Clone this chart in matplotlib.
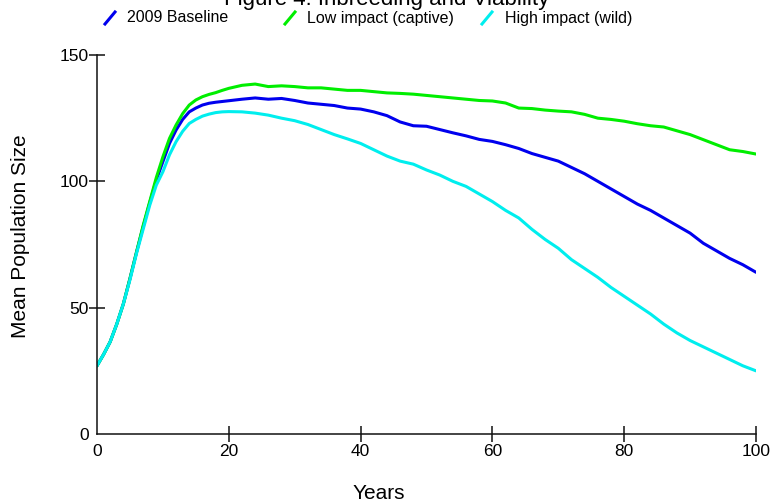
import matplotlib
matplotlib.use("Agg")
import matplotlib.pyplot as plt
from matplotlib.lines import Line2D

plt.rcParams['font.family'] = ['Liberation Sans', 'DejaVu Sans']

years = list(range(0, 21)) + list(range(22, 101, 2))
baseline = [27, 31.5, 36.5, 43.5, 51.5, 61.5, 72, 82, 91.5, 100.5, 107.8, 115, 120.3, 124.5, 127.5,
            129, 130.2, 130.9, 131.3, 131.6, 131.9,
            132.5, 133, 132.5, 132.8,
            132, 131, 130.5, 130, 129, 128.6, 127.5, 126, 123.5, 122, 121.8, 120.5, 119.2, 118,
            116.6, 115.8, 114.5, 113, 111, 109.5, 108, 105.5, 103, 100, 97, 94, 91, 88.5, 85.5,
            82.5, 79.5, 75.5, 72.5, 69.5, 67, 64]
low_impact = [27, 31.5, 36.5, 43.5, 51.5, 61.5, 72, 82.5, 92, 101.5, 109.7, 117, 122.3, 126.8, 130.2,
              132.2, 133.5, 134.4, 135.1, 136, 136.8,
              138, 138.5, 137.5,
              137.8, 137.5, 137, 137, 136.5, 136, 136, 135.5, 135, 134.8, 134.5, 134, 133.5, 133,
              132.5, 132, 131.8, 131, 129, 128.8, 128.2, 127.8, 127.5, 126.5, 125, 124.5, 123.8,
              122.8, 122, 121.5, 120, 118.5, 116.5, 114.5, 112.5, 111.8, 110.8]
high_impact = [27, 31.5, 36.5, 43.5, 51.5, 61, 71.5, 81, 90.5, 98.5, 103.8, 110.5, 115.7, 119.8, 122.9,
               124.5, 125.8, 126.6, 127.2, 127.5, 127.6,
               127.5, 127, 126.2, 125,
               124, 122.5, 120.5, 118.5, 116.8, 115, 112.5, 110, 108, 106.8, 104.5, 102.5, 100,
               98, 95, 92, 88.5, 85.5, 81, 77, 73.5, 69, 65.5, 62, 58, 54.5, 51, 47.5, 43.5, 40,
               37, 34.5, 32, 29.5, 27, 25]

series_names = ["2009 Baseline", "Low impact (captive)", "High impact (wild)"]
series_colors = ["#0000ee", "#00ee00", "#00eeee"]
x_ticks = [0, 20, 40, 60, 80, 100]
y_ticks = [0, 50, 100, 150]

W, H = 771, 504
fig = plt.figure(figsize=(W / 100, H / 100), dpi=100)
ax = fig.add_axes([97 / W, 1 - 434 / H, (756 - 97) / W, (434 - 55) / H])

for vals, col in zip([baseline, low_impact, high_impact], series_colors):
    ax.plot(years, vals, color=col, lw=2.2, solid_capstyle='round')

ax.set_xlim(0, 100)
ax.set_ylim(0, 150)
ax.set_xticks(x_ticks)
ax.set_yticks(y_ticks)
for s in ['top', 'right']:
    ax.spines[s].set_visible(False)
for s in ['left', 'bottom']:
    ax.spines[s].set_linewidth(1.1)
    ax.spines[s].set_color('#111111')
ax.tick_params(axis='both', direction='inout', length=12, width=1.1, color='#111111',
               labelsize=12.5)
ax.tick_params(axis='y', pad=0)
ax.tick_params(axis='x', pad=1)
ax.xaxis.get_major_ticks()[0].tick1line.set_visible(False)
ax.yaxis.get_major_ticks()[0].tick1line.set_visible(False)

ax.set_xlabel("Years", fontsize=15)
ax.xaxis.set_label_coords((379 - 97) / 659, (434 - 484) / 379)
ax.set_ylabel("Mean Population Size", fontsize=15)
ax.yaxis.set_label_coords((30 - 97) / 659, (434 - 236) / 379)

# Title (partly cut off at top, as in the reference)
fig.text(387 / W, 1 - 5 / H, "Figure 4: Inbreeding and Viability", fontsize=16,
         ha='center', va='baseline')

# Legend
leg_marker_x = [105, 285, 482]
leg_text_x = [127, 307, 505]
for name, col, mx, tx in zip(series_names, series_colors, leg_marker_x, leg_text_x):
    fig.add_artist(Line2D([mx / W, (mx + 10) / W], [1 - 24 / H, 1 - 12 / H],
                          color=col, lw=2.2, transform=fig.transFigure))
    fig.text(tx / W, 1 - 18 / H, name, fontsize=11.5, ha='left', va='center')

fig.savefig("out.png", dpi=100)
